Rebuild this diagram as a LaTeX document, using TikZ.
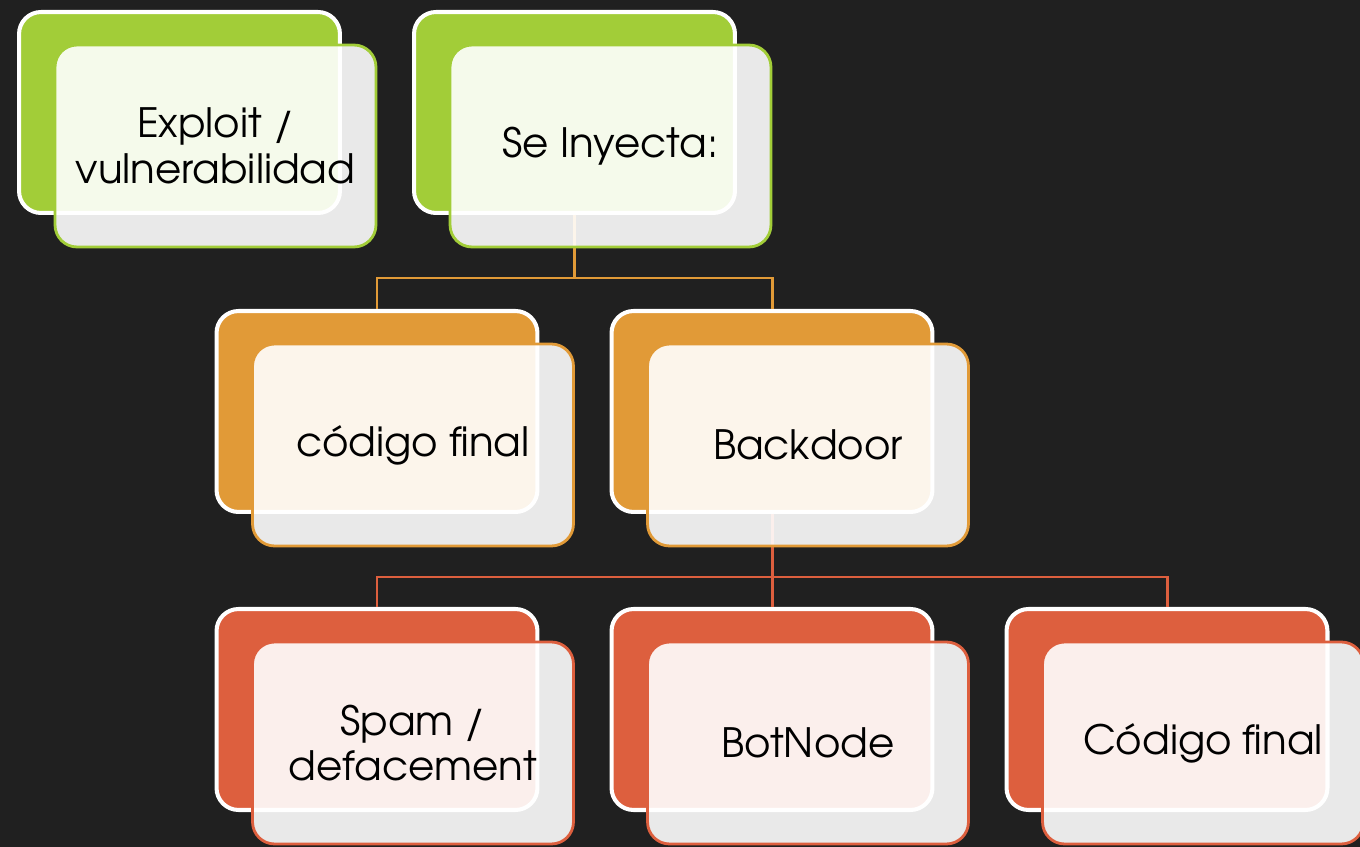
\documentclass[tikz,border=0pt]{standalone}
\usepackage{fontspec}
\setmainfont{TeX Gyre Adventor}
\usepackage{tikz}
\definecolor{bgdark}{RGB}{32, 32, 32}
\definecolor{leafgreen}{RGB}{162, 205, 56}
\definecolor{amber}{RGB}{225, 154, 55}
\definecolor{brick}{RGB}{221, 95, 62}

\begin{document}
\begin{tikzpicture}[
  x=0.02cm, y=-0.02cm,
  back/.style={rounded corners=0.44cm, draw=white, line width=2.3pt, fill=#1,
    minimum width=6.42cm, minimum height=4.02cm},
  front/.style={rounded corners=0.44cm, draw=#1, line width=1.6pt,
    fill=white, fill opacity=0.9, text opacity=1,
    minimum width=6.42cm, minimum height=4.04cm, align=center,
    font=\fontsize{23}{26}\selectfont},
  link/.style={line width=1.7pt, draw=#1}
]
  \clip (0,0) rectangle (1360,847);
  \fill[bgdark] (0,0) rectangle (1360,847);

  % Back cards
  \node[back=leafgreen] (bExploit) at (179.5,112.5) {};
  \node[back=leafgreen] (bInyecta) at (574.5,112.5) {};
  \node[back=amber] (bCodigo) at (377,411.5) {};
  \node[back=amber] (bBackdoor) at (772,411.5) {};
  \foreach \n/\x in {Spam/377, Bot/772, Final/1167} {
    \node[back=brick] (b\n) at (\x,709.5) {};
  }

  % Connectors
  \foreach \c in {bCodigo, bBackdoor} {
    \draw[link=amber] (bInyecta.south) -- ++(0,63) -| (\c.north);
  }
  \foreach \c in {bSpam, bBot, bFinal} {
    \draw[link=brick] (bBackdoor.south) -- ++(0,63) -| (\c.north);
  }

  % Front cards
  \node[front=leafgreen] (fExploit) at ([shift={(36,33.5)}]bExploit.center) {Exploit /\\vulnerabilidad};
  \node[front=leafgreen] (fInyecta) at ([shift={(36,33.5)}]bInyecta.center) {Se Inyecta:};
  \node[front=amber] (fCodigo) at ([shift={(36,33.5)}]bCodigo.center) {código final};
  \node[front=amber] (fBackdoor) at ([shift={(36,33.5)}]bBackdoor.center) {Backdoor};
  \node[front=brick] (fSpam) at ([shift={(36,33.5)}]bSpam.center) {Spam /\\defacement};
  \node[front=brick] (fBot) at ([shift={(36,33.5)}]bBot.center) {BotNode};
  \node[front=brick] (fFinal) at ([shift={(36,33.5)}]bFinal.center) {Código final};
\end{tikzpicture}
\end{document}
